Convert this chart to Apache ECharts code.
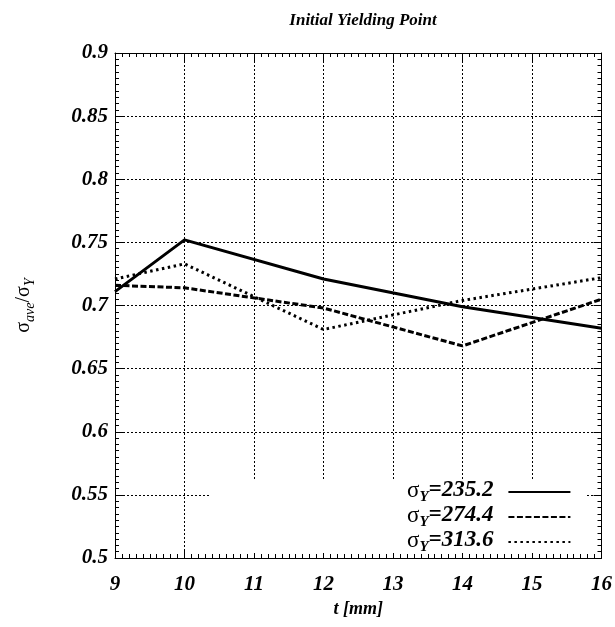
<!DOCTYPE html>
<html>
<head>
<meta charset="utf-8">
<script src="https://cdn.jsdelivr.net/npm/echarts@6/dist/echarts.min.js"></script>
<style>
  html, body { margin: 0; padding: 0; background: #fff; }
</style>
</head>
<body>
<div id="main" style="width:615px;height:627px;"></div>
<script>
// plate thickness t [mm]
var thickness = [9, 10, 12, 14, 16];
// sigma_ave / sigma_Y for each yield stress
var sy235 = [0.711, 0.752, 0.721, 0.699, 0.682];
var sy274 = [0.716, 0.714, 0.698, 0.668, 0.705];
var sy313 = [0.721, 0.733, 0.681, 0.704, 0.722];
var seriesNames = ['235.2', '274.4', '313.6'];

function pairs(ys) {
    return thickness.map(function (t, i) { return [t, ys[i]]; });
}

var font = '"Liberation Serif", "DejaVu Serif", serif';
var labelStyle = { fontFamily: font, fontWeight: 'bold', fontStyle: 'italic', fontSize: 21, color: '#000' };

var myChart = echarts.init(document.getElementById('main'));

// shared look of the four frame axes
function frame(extra) {
    var base = {
        type: 'value',
        axisLine: { show: true, onZero: false, lineStyle: { color: '#000', width: 1 } },
        axisTick: { show: true, inside: true, length: 8, lineStyle: { color: '#000' } },
        minorTick: { show: true, splitNumber: 10, length: 4, lineStyle: { color: '#000' } },
        splitLine: { show: false }
    };
    return Object.assign(base, extra);
}

myChart.setOption({
    backgroundColor: '#FFFFFF',
    animation: false,
    title: {
        text: 'Initial Yielding Point',
        left: 358,
        textAlign: 'center',
        top: 7,
        textStyle: { fontFamily: font, fontWeight: 'bold', fontStyle: 'italic', fontSize: 17, color: '#000' }
    },
    grid: { left: 115, right: 12, top: 53, bottom: 69 },
    // white key box that hides the grid lines behind the legend
    graphic: [{
        type: 'rect',
        z: 1,
        shape: { x: 210, y: 481, width: 377, height: 72 },
        style: { fill: '#fff' }
    }],
    legend: {
        orient: 'vertical',
        left: 407,
        top: 479,
        z: 5,
        align: 'right',
        padding: 0,
        itemWidth: 62,
        itemHeight: 14,
        itemGap: -1,
        itemStyle: { opacity: 0 },
        data: seriesNames,
        formatter: function (name) {
            return '{s|σ}{sub|Y}{v|=' + name + '}';
        },
        textStyle: {
            rich: {
                s: { fontFamily: font, fontSize: 23, color: '#000', verticalAlign: 'bottom', padding: [0, 0, 3, 0] },
                sub: { fontFamily: font, fontStyle: 'italic', fontWeight: 'bold', fontSize: 15, color: '#000', verticalAlign: 'bottom' },
                v: { fontFamily: font, fontStyle: 'italic', fontWeight: 'bold', fontSize: 23, color: '#000', verticalAlign: 'bottom', padding: [0, 10, 3, 0] }
            }
        }
    },
    xAxis: [
        frame({
            min: 9, max: 16, interval: 1,
            name: 't [mm]',
            nameLocation: 'middle',
            nameGap: 42,
            nameTextStyle: { fontFamily: font, fontWeight: 'bold', fontStyle: 'italic', fontSize: 18, color: '#000' },
            axisLabel: Object.assign({ margin: 16 }, labelStyle),
            splitLine: { show: true, lineStyle: { color: '#000', type: [2, 2], width: 1 } }
        }),
        frame({
            position: 'top', min: 9, max: 16, interval: 1,
            axisLabel: { show: false }
        })
    ],
    yAxis: [
        frame({
            min: 0.5, max: 0.9, interval: 0.05,
            name: '{s|σ}{sub|ave}{s|/σ}{sub|Y}',
            nameLocation: 'middle',
            nameRotate: 90,
            nameGap: 78,
            nameTextStyle: {
                rich: {
                    s: { fontFamily: font, fontSize: 20, color: '#000', verticalAlign: 'bottom', padding: [0, 0, 3, 0] },
                    sub: { fontFamily: font, fontStyle: 'italic', fontSize: 14, color: '#000', verticalAlign: 'bottom' }
                }
            },
            axisLabel: Object.assign({ margin: 7 }, labelStyle, {
                formatter: function (v) { return String(+v.toFixed(2)); }
            }),
            splitLine: { show: true, lineStyle: { color: '#000', type: [2, 2], width: 1 } }
        }),
        frame({
            position: 'right', min: 0.5, max: 0.9, interval: 0.05,
            axisLabel: { show: false }
        })
    ],
    series: [
        {
            name: seriesNames[0], type: 'line', symbol: 'none', z: 4,
            color: '#000',
            data: pairs(sy235),
            lineStyle: { color: '#000', width: 3, type: 'solid' }
        },
        {
            name: seriesNames[1], type: 'line', symbol: 'none', z: 3,
            color: '#000',
            data: pairs(sy274),
            lineStyle: { color: '#000', width: 3, type: [6, 2.5] }
        },
        {
            name: seriesNames[2], type: 'line', symbol: 'none', z: 3,
            color: '#000',
            data: pairs(sy313),
            lineStyle: { color: '#000', width: 3, type: [2.5, 3.5] }
        }
    ]
});
</script>
</body>
</html>
